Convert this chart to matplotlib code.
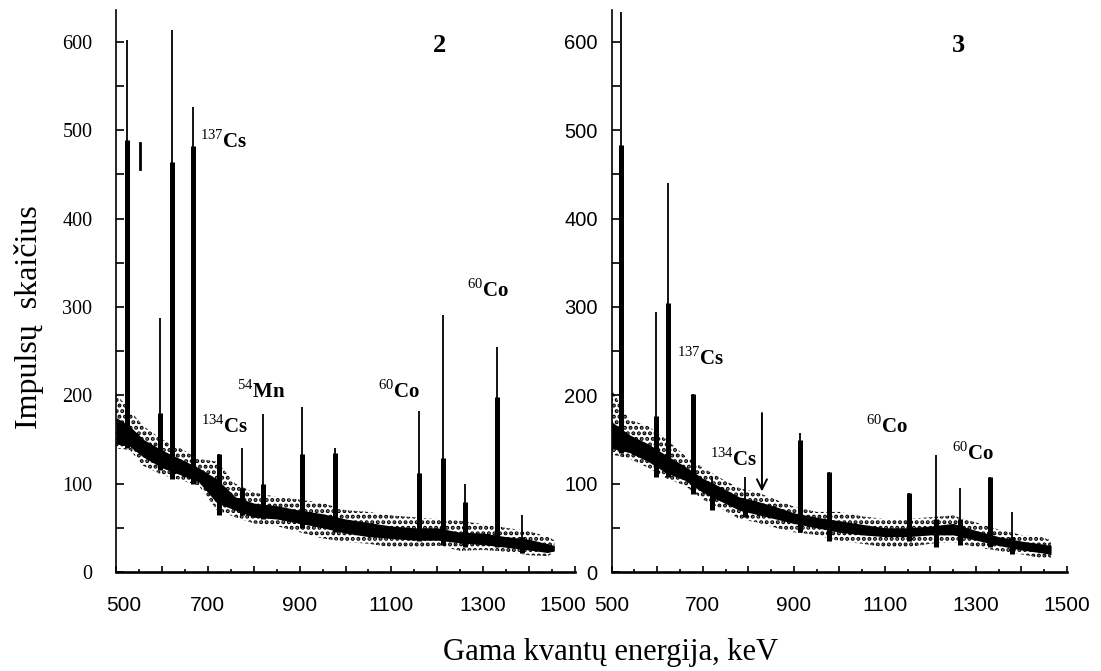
import matplotlib
matplotlib.use("Agg")
import matplotlib.pyplot as plt
from matplotlib.ticker import MultipleLocator, FuncFormatter
from matplotlib.transforms import ScaledTranslation

plt.rcParams["mathtext.fontset"] = "custom"
plt.rcParams["mathtext.rm"] = "Liberation Serif"
plt.rcParams["mathtext.bf"] = "Liberation Serif:bold"
plt.rcParams["hatch.linewidth"] = 2.0

SERIF = "Liberation Serif"
SANS = "Liberation Sans"

# ---- panel 2 (left) ----
bg_e_2 = [500, 530, 560, 600, 640, 680, 720, 760, 800, 850, 900, 950, 1000,
          1050, 1100, 1150, 1200, 1250, 1300, 1350, 1400, 1440, 1455]
outer_hi_2 = [202, 183, 165, 150, 140, 128, 125, 100, 90, 85, 82, 78, 70,
              68, 64, 62, 60, 58, 54, 50, 46, 40, 36]
outer_lo_2 = [140, 138, 120, 110, 104, 98, 70, 62, 55, 52, 45, 38, 34,
              32, 28, 27, 30, 24, 25, 23, 19, 18, 22]
core_hi_2 = [175, 165, 150, 138, 128, 118, 105, 85, 78, 75, 70, 66, 60,
             56, 52, 50, 50, 45, 44, 40, 37, 32, 30]
core_lo_2 = [145, 142, 130, 118, 110, 102, 78, 70, 62, 60, 55, 50, 44,
             40, 38, 36, 36, 33, 31, 28, 25, 22, 24]

peak_e_2 = [525, 596, 621, 668, 724, 774, 821, 906, 977, 1161, 1213, 1260, 1331, 1385]
thin_top_2 = [602, 287, 613, 526, 134, 140, 179, 187, 140, 182, 291, 100, 255, 65]
thick_top_2 = [489, 180, 464, 482, 134, 95, 100, 134, 135, 112, 129, 79, 198, 40]
peak_base_2 = [140, 115, 105, 100, 65, 65, 60, 50, 45, 35, 30, 28, 28, 22]

labels_2 = [r"$^{137}$Cs", r"$^{134}$Cs", r"$^{54}$Mn", r"$^{60}$Co", r"$^{60}$Co"]
label_e_2 = [683, 685, 764, 1071, 1265]
label_y_2 = [480, 158, 197, 197, 311]

# ---- panel 3 (right) ----
bg_e_3 = [500, 540, 580, 620, 660, 700, 740, 780, 820, 860, 900, 950, 1000,
          1050, 1100, 1150, 1200, 1250, 1300, 1350, 1400, 1440, 1465]
outer_hi_3 = [206, 172, 165, 150, 132, 118, 106, 95, 90, 82, 74, 68, 68,
              63, 60, 60, 62, 64, 56, 48, 42, 40, 36]
outer_lo_3 = [133, 128, 118, 106, 98, 82, 72, 60, 56, 50, 45, 42, 35,
              32, 28, 28, 32, 34, 28, 24, 20, 16, 14]
core_hi_3 = [170, 155, 145, 132, 120, 106, 96, 85, 80, 74, 67, 62, 58,
             54, 50, 50, 52, 55, 47, 40, 35, 32, 30]
core_lo_3 = [140, 135, 125, 112, 104, 90, 80, 70, 65, 60, 55, 50, 45,
             42, 40, 40, 42, 42, 36, 30, 25, 22, 20]

peak_e_3 = [520, 597, 623, 679, 721, 793, 914, 978, 1153, 1212, 1265, 1331, 1379]
thin_top_3 = [634, 294, 440, 202, 108, 108, 157, 113, 89, 132, 95, 107, 68]
thick_top_3 = [483, 176, 304, 202, 90, 80, 149, 113, 89, 60, 60, 107, 40]
peak_base_3 = [135, 108, 108, 88, 70, 62, 45, 35, 35, 28, 30, 28, 20]

labels_3 = [r"$^{137}$Cs", r"$^{134}$Cs", r"$^{60}$Co", r"$^{60}$Co"]
label_e_3 = [643, 716, 1059, 1248]
label_y_3 = [234, 120, 158, 127]

arrow_e_3 = 830
arrow_from_3 = 183
arrow_to_3 = 88

mark_e_2 = 552
mark_lo_2 = 456
mark_hi_2 = 485


def x_label_fmt(v, pos):
    return f"{int(v)}" if int(round(v)) % 200 == 100 else ""


def draw_panel(ax, bg_e, outer_lo, outer_hi, core_lo, core_hi,
               peak_e, thin_top, thick_top, peak_base,
               labels, label_e, label_y, number, number_e, ylab_font, ylab_pad):
    ax.fill_between(bg_e, outer_lo, outer_hi, facecolor="none",
                    edgecolor="black", hatch="...", linewidth=0)
    ax.fill_between(bg_e, core_lo, core_hi, color="black", linewidth=0)

    ax.vlines(peak_e, peak_base, thin_top, color="black", linewidth=1.3)
    ax.vlines(peak_e, peak_base, thick_top, color="black", linewidth=3.6)

    for txt, e, y in zip(labels, label_e, label_y):
        ax.text(e, y, txt, fontsize=15, fontweight="bold", family=SERIF,
                ha="left", va="baseline")
    ax.text(number_e, 588, number, fontsize=19, fontweight="bold", family=SERIF,
            ha="center", va="baseline")

    ax.set_xlim(500, 1500)
    ax.set_ylim(0, 636)
    for side in ("top", "right"):
        ax.spines[side].set_visible(False)
    ax.spines["left"].set_linewidth(1.2)
    ax.spines["bottom"].set_linewidth(1.9)

    ax.xaxis.set_major_locator(MultipleLocator(100))
    ax.xaxis.set_minor_locator(MultipleLocator(50))
    ax.xaxis.set_major_formatter(FuncFormatter(x_label_fmt))
    ax.yaxis.set_major_locator(MultipleLocator(100))
    ax.yaxis.set_minor_locator(MultipleLocator(50))

    ax.tick_params(axis="x", which="major", direction="in", length=4, width=1.2,
                   pad=17, labelsize=15)
    ax.tick_params(axis="x", which="minor", direction="in", length=2, width=1.2)
    ax.tick_params(axis="y", which="both", direction="in", length=6, width=1.2,
                   pad=ylab_pad, labelsize=14.5)
    for lab in ax.get_xticklabels():
        lab.set_family(SANS)
    for lab in ax.get_yticklabels():
        lab.set_family(ylab_font)


fig = plt.figure(figsize=(11.01, 6.71), dpi=100)
ax2 = fig.add_axes([116 / 1101, 1 - 572 / 671, 459 / 1101, 562 / 671])
ax3 = fig.add_axes([611.7 / 1101, 1 - 572 / 671, 455.3 / 1101, 562 / 671])

draw_panel(ax2, bg_e_2, outer_lo_2, outer_hi_2, core_lo_2, core_hi_2,
           peak_e_2, thin_top_2, thick_top_2, peak_base_2,
           labels_2, label_e_2, label_y_2, "2", 1204, SERIF, 17)
draw_panel(ax3, bg_e_3, outer_lo_3, outer_hi_3, core_lo_3, core_hi_3,
           peak_e_3, thin_top_3, thick_top_3, peak_base_3,
           labels_3, label_e_3, label_y_3, "3", 1261, SANS, 10)

ax2.plot([mark_e_2, mark_e_2], [mark_lo_2, mark_hi_2], color="black", linewidth=2)
ax3.annotate("", xy=(arrow_e_3, arrow_to_3), xytext=(arrow_e_3, arrow_from_3),
             arrowprops=dict(arrowstyle="->", color="black", lw=1.4,
                             mutation_scale=18))

fig.text(0.026, 0.527, "Impulsų  skaičius", rotation=90, ha="center", va="center",
         fontsize=23, family=SERIF)
fig.text(0.555, 0.028, "Gama kvantų energija, keV", ha="center", va="center",
         fontsize=22, family=SERIF)

# nudge the end labels of the left panel apart from the right panel's "500"
fig.canvas.draw()
for tick in ax2.xaxis.get_major_ticks():
    loc = tick.get_loc()
    if abs(loc - 500) < 1:
        shift = 8
    elif abs(loc - 1500) < 1:
        shift = -12
    else:
        continue
    lab = tick.label1
    lab.set_transform(lab.get_transform() + ScaledTranslation(shift / 100, 0, fig.dpi_scale_trans))

fig.savefig("out.png", dpi=100, facecolor="white")
